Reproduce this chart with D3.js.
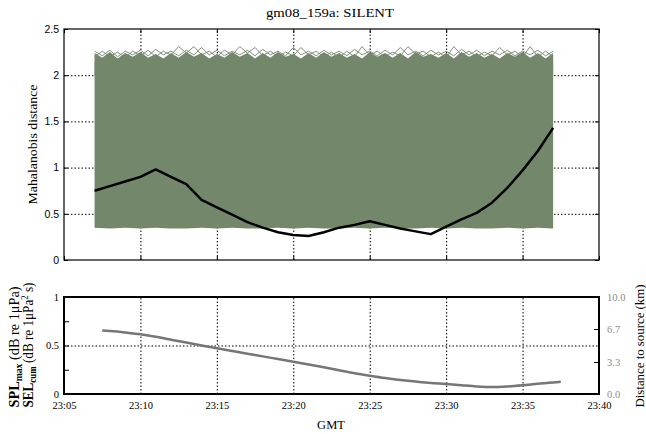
<!DOCTYPE html>
<html>
<head>
<meta charset="utf-8">
<script src="https://cdn.jsdelivr.net/npm/d3@7/dist/d3.min.js"></script>
<style>
  body { margin: 0; background: #fff; }
  text { font-family: "Liberation Serif", "Times New Roman", serif; }
  .sans text, text.sans { font-family: "Liberation Sans", Arial, sans-serif; }
</style>
</head>
<body>
<svg id="chart" width="646" height="434"></svg>
<script>
// ---- data (times are minutes after 23:00) ----
var xTickMinutes = [5, 10, 15, 20, 25, 30, 35, 40];
var topYTicks = [0, 0.5, 1, 1.5, 2, 2.5];
var bottomYTicks = [0, 0.5, 1];
var bottomMinorTicks = [0.25, 0.75];
var distTicks = [0, 3.3, 6.7, 10];

// Mahalanobis distance of the target (black)
var mahaTimes = [7, 8, 9, 10, 11, 12, 13, 14, 15, 16, 17, 18, 19, 20, 21, 22, 23, 24, 25, 26, 27, 28, 29, 30, 31, 32, 33, 34, 35, 36, 37];
var mahaValues = [0.75, 0.80, 0.85, 0.90, 0.98, 0.90, 0.82, 0.65, 0.57, 0.49, 0.41, 0.35, 0.30, 0.27, 0.26, 0.30, 0.35, 0.38, 0.42, 0.38, 0.34, 0.31, 0.28, 0.36, 0.44, 0.51, 0.62, 0.78, 0.97, 1.18, 1.43];

// envelope of the background (noise) distances (green)
var bandTimes = [7, 8, 9, 10, 11, 12, 13, 14, 15, 16, 17, 18, 19, 20, 21, 22, 23, 24, 25, 26, 27, 28, 29, 30, 31, 32, 33, 34, 35, 36, 37];
var bandLower = [0.35, 0.34, 0.35, 0.34, 0.35, 0.34, 0.34, 0.35, 0.34, 0.35, 0.34, 0.34, 0.35, 0.34, 0.35, 0.34, 0.34, 0.35, 0.34, 0.35, 0.34, 0.34, 0.35, 0.34, 0.35, 0.34, 0.34, 0.35, 0.34, 0.35, 0.34];
var edgeTimes = [7, 7.5, 8, 8.5, 9, 9.5, 10, 10.5, 11, 11.5, 12, 12.5, 13, 13.5, 14, 14.5, 15, 15.5, 16, 16.5, 17, 17.5, 18, 18.5, 19, 19.5, 20, 20.5, 21, 21.5, 22, 22.5, 23, 23.5, 24, 24.5, 25, 25.5, 26, 26.5, 27, 27.5, 28, 28.5, 29, 29.5, 30, 30.5, 31, 31.5, 32, 32.5, 33, 33.5, 34, 34.5, 35, 35.5, 36, 36.5, 37];
var edgeInner = [2.24, 2.19, 2.25, 2.18, 2.24, 2.20, 2.25, 2.19, 2.23, 2.18, 2.24, 2.19, 2.25, 2.20, 2.24, 2.18, 2.23, 2.19, 2.25, 2.20, 2.24, 2.18, 2.24, 2.19, 2.25, 2.20, 2.23, 2.18, 2.24, 2.19, 2.25, 2.20, 2.24, 2.19, 2.23, 2.18, 2.25, 2.20, 2.24, 2.19, 2.24, 2.18, 2.25, 2.20, 2.23, 2.19, 2.24, 2.18, 2.25, 2.20, 2.24, 2.19, 2.23, 2.18, 2.24, 2.20, 2.25, 2.19, 2.24, 2.18, 2.24];
var edgeOuterA = [2.20, 2.26, 2.20, 2.25, 2.19, 2.26, 2.21, 2.27, 2.20, 2.26, 2.22, 2.31, 2.24, 2.31, 2.22, 2.26, 2.20, 2.27, 2.22, 2.31, 2.24, 2.30, 2.21, 2.26, 2.20, 2.25, 2.21, 2.30, 2.22, 2.26, 2.20, 2.25, 2.19, 2.26, 2.20, 2.31, 2.22, 2.26, 2.20, 2.25, 2.21, 2.31, 2.23, 2.26, 2.20, 2.25, 2.19, 2.31, 2.22, 2.26, 2.20, 2.25, 2.21, 2.30, 2.22, 2.26, 2.20, 2.31, 2.20, 2.26, 2.20];
var edgeOuterB = [2.26, 2.21, 2.27, 2.20, 2.26, 2.22, 2.27, 2.21, 2.28, 2.22, 2.26, 2.21, 2.27, 2.22, 2.30, 2.22, 2.27, 2.21, 2.26, 2.22, 2.27, 2.21, 2.28, 2.22, 2.26, 2.21, 2.30, 2.22, 2.26, 2.21, 2.27, 2.22, 2.26, 2.21, 2.28, 2.22, 2.26, 2.21, 2.27, 2.22, 2.30, 2.22, 2.26, 2.21, 2.27, 2.22, 2.26, 2.21, 2.28, 2.22, 2.27, 2.21, 2.26, 2.22, 2.27, 2.21, 2.26, 2.22, 2.27, 2.21, 2.26];

// distance to source in km (grey)
var distTimes = [7.5, 8, 9, 10, 11, 12, 13, 14, 15, 16, 17, 18, 19, 20, 21, 22, 23, 24, 25, 26, 27, 28, 29, 30, 31, 32, 33, 34, 35, 36, 37, 37.5];
var distValues = [6.55, 6.50, 6.35, 6.15, 5.90, 5.60, 5.30, 5.00, 4.71, 4.43, 4.15, 3.88, 3.60, 3.33, 3.05, 2.75, 2.45, 2.15, 1.89, 1.65, 1.45, 1.28, 1.13, 1.03, 0.90, 0.78, 0.72, 0.78, 0.90, 1.05, 1.18, 1.27];

// ---- layout ----
var svg = d3.select('#chart');
var left = 64, right = 599;
var top1 = 29, bot1 = 260;
var top2 = 297, bot2 = 394;
var green = '#73876b';

var x = d3.scaleLinear().domain([5, 40]).range([left, right]);
var y1 = d3.scaleLinear().domain([0, 2.5]).range([bot1, top1]);
var y2 = d3.scaleLinear().domain([0, 1]).range([bot2, top2]);
var yd = d3.scaleLinear().domain([0, 10]).range([bot2, top2]);

var fmtTime = function(m) { return '23:' + (m < 10 ? '0' + m : m); };

function grid(g) {
  g.selectAll('.domain').remove();
  g.selectAll('line').attr('stroke', '#000').attr('stroke-width', 1).attr('stroke-dasharray', '1.5,2');
  g.selectAll('text').remove();
}

// ---- top panel ----
var p1 = svg.append('g');

p1.append('g').attr('transform', 'translate(0,' + bot1 + ')')
    .call(d3.axisBottom(x).tickValues([10, 15, 20, 25, 30, 35]).tickSize(-(bot1 - top1)).tickFormat(''))
    .call(grid);
p1.append('g').attr('transform', 'translate(' + left + ',0)')
    .call(d3.axisLeft(y1).tickValues([0.5, 1, 1.5, 2]).tickSize(-(right - left)).tickFormat(''))
    .call(grid);

var band = d3.area()
    .x(function(d, i) { return x(bandTimes[i]); })
    .y0(function(d, i) { return y1(bandLower[i]); })
    .y1(function(d) { return y1(2.15); });
p1.append('path').datum(bandTimes).attr('d', band).attr('fill', green);

var edgeArea = d3.area()
    .x(function(d, i) { return x(edgeTimes[i]); })
    .y0(y1(2.0))
    .y1(function(d, i) { return y1(edgeInner[i]); });
p1.append('path').datum(edgeTimes).attr('d', edgeArea).attr('fill', green);

var edgeLine = function(vals) {
  return d3.line()
      .x(function(d, i) { return x(edgeTimes[i]); })
      .y(function(d, i) { return y1(vals[i]); })(edgeTimes);
};
[edgeOuterA, edgeOuterB].forEach(function(vals) {
  p1.append('path').attr('d', edgeLine(vals))
      .attr('fill', 'none').attr('stroke', green).attr('stroke-width', 0.9);
});

var maha = d3.line()
    .x(function(d, i) { return x(mahaTimes[i]); })
    .y(function(d, i) { return y1(mahaValues[i]); });
p1.append('path').datum(mahaTimes).attr('d', maha)
    .attr('fill', 'none').attr('stroke', '#000').attr('stroke-width', 2.5).attr('stroke-linejoin', 'round');

// inside ticks on all four sides
var yAxis1 = p1.append('g').attr('class', 'sans').attr('transform', 'translate(' + left + ',0)')
    .call(d3.axisLeft(y1).tickValues(topYTicks).tickSize(-4).tickPadding(5).tickFormat(d3.format('~g')));
p1.append('g').attr('transform', 'translate(' + right + ',0)')
    .call(d3.axisRight(y1).tickValues(topYTicks).tickSize(-4).tickFormat(''));
p1.append('g').attr('transform', 'translate(0,' + bot1 + ')')
    .call(d3.axisBottom(x).tickValues(xTickMinutes).tickSize(-4).tickFormat(''));
p1.append('g').attr('transform', 'translate(0,' + top1 + ')')
    .call(d3.axisTop(x).tickValues(xTickMinutes).tickSize(-4).tickFormat(''));
p1.selectAll('.domain').remove();
yAxis1.selectAll('text').attr('font-size', 10.5).attr('fill', '#000');

p1.append('rect').attr('x', left).attr('y', top1).attr('width', right - left).attr('height', bot1 - top1)
    .attr('fill', 'none').attr('stroke', '#000').attr('stroke-width', 1.2);

svg.append('text').attr('x', 330).attr('y', 17).attr('text-anchor', 'middle')
    .attr('font-size', 13).attr('textLength', 128).attr('lengthAdjust', 'spacingAndGlyphs')
    .text('gm08_159a: SILENT');
svg.append('text').attr('transform', 'translate(37,' + ((top1 + bot1) / 2) + ') rotate(-90)')
    .attr('text-anchor', 'middle').attr('font-size', 13).attr('textLength', 120).attr('lengthAdjust', 'spacingAndGlyphs')
    .text('Mahalanobis distance');

// ---- bottom panel ----
var p2 = svg.append('g');

p2.append('g').attr('transform', 'translate(0,' + bot2 + ')')
    .call(d3.axisBottom(x).tickValues([10, 15, 20, 25, 30, 35]).tickSize(-(bot2 - top2)).tickFormat(''))
    .call(grid);
p2.append('g').attr('transform', 'translate(' + left + ',0)')
    .call(d3.axisLeft(y2).tickValues([0.5]).tickSize(-(right - left)).tickFormat(''))
    .call(grid);

var dist = d3.line()
    .curve(d3.curveMonotoneX)
    .x(function(d, i) { return x(distTimes[i]); })
    .y(function(d, i) { return yd(distValues[i]); });
p2.append('path').datum(distTimes).attr('d', dist)
    .attr('fill', 'none').attr('stroke', '#767676').attr('stroke-width', 2.5);

var yAxis2 = p2.append('g').attr('transform', 'translate(' + left + ',0)')
    .call(d3.axisLeft(y2).tickValues(bottomYTicks.concat(bottomMinorTicks))
      .tickSize(-5).tickPadding(5)
      .tickFormat(function(d) { return bottomYTicks.indexOf(d) >= 0 ? d3.format('~g')(d) : ''; }));
var yAxisR = p2.append('g').attr('transform', 'translate(' + right + ',0)')
    .call(d3.axisRight(yd).tickValues(distTicks).tickSize(-5).tickPadding(8).tickFormat(d3.format('.1f')));
var xAxis2 = p2.append('g').attr('transform', 'translate(0,' + bot2 + ')')
    .call(d3.axisBottom(x).tickValues(xTickMinutes).tickSize(0).tickPadding(8).tickFormat(fmtTime));
p2.selectAll('.domain').remove();
p2.selectAll('.tick text').attr('font-size', 10.5).attr('font-family', '"Liberation Serif", serif');
yAxis2.selectAll('text').attr('fill', '#000');
yAxisR.selectAll('text').attr('fill', '#8c8c8c');
xAxis2.selectAll('text').attr('fill', '#000');

p2.append('rect').attr('x', left).attr('y', top2).attr('width', right - left).attr('height', bot2 - top2)
    .attr('fill', 'none').attr('stroke', '#000').attr('stroke-width', 2);

svg.append('text').attr('x', 331).attr('y', 429).attr('text-anchor', 'middle')
    .attr('font-size', 12.5).text('GMT');

var lab1 = svg.append('text').attr('transform', 'translate(19,347) rotate(-90)')
    .attr('text-anchor', 'middle').attr('font-size', 14)
    .attr('textLength', 121).attr('lengthAdjust', 'spacingAndGlyphs');
lab1.append('tspan').attr('font-weight', 'bold').attr('font-size', 14).text('SPL');
lab1.append('tspan').attr('font-weight', 'bold').attr('font-size', 9.5).attr('dy', 3).text('max');
lab1.append('tspan').attr('dy', -3).text(' (dB re 1μPa)');

var lab2 = svg.append('text').attr('transform', 'translate(33,345) rotate(-90)')
    .attr('text-anchor', 'middle').attr('font-size', 14)
    .attr('textLength', 125).attr('lengthAdjust', 'spacingAndGlyphs');
lab2.append('tspan').attr('font-weight', 'bold').attr('font-size', 14).text('SEL');
lab2.append('tspan').attr('font-weight', 'bold').attr('font-size', 9.5).attr('dy', 3).text('cum');
lab2.append('tspan').attr('dy', -3).text(' (dB re 1μPa');
lab2.append('tspan').attr('font-size', 9.5).attr('dy', -5).text('2');
lab2.append('tspan').attr('dy', 5).text(' s)');

svg.append('text').attr('transform', 'translate(644,346) rotate(-90)')
    .attr('text-anchor', 'middle').attr('font-size', 13).attr('textLength', 123).attr('lengthAdjust', 'spacingAndGlyphs')
    .text('Distance to source (km)');
</script>
</body>
</html>
